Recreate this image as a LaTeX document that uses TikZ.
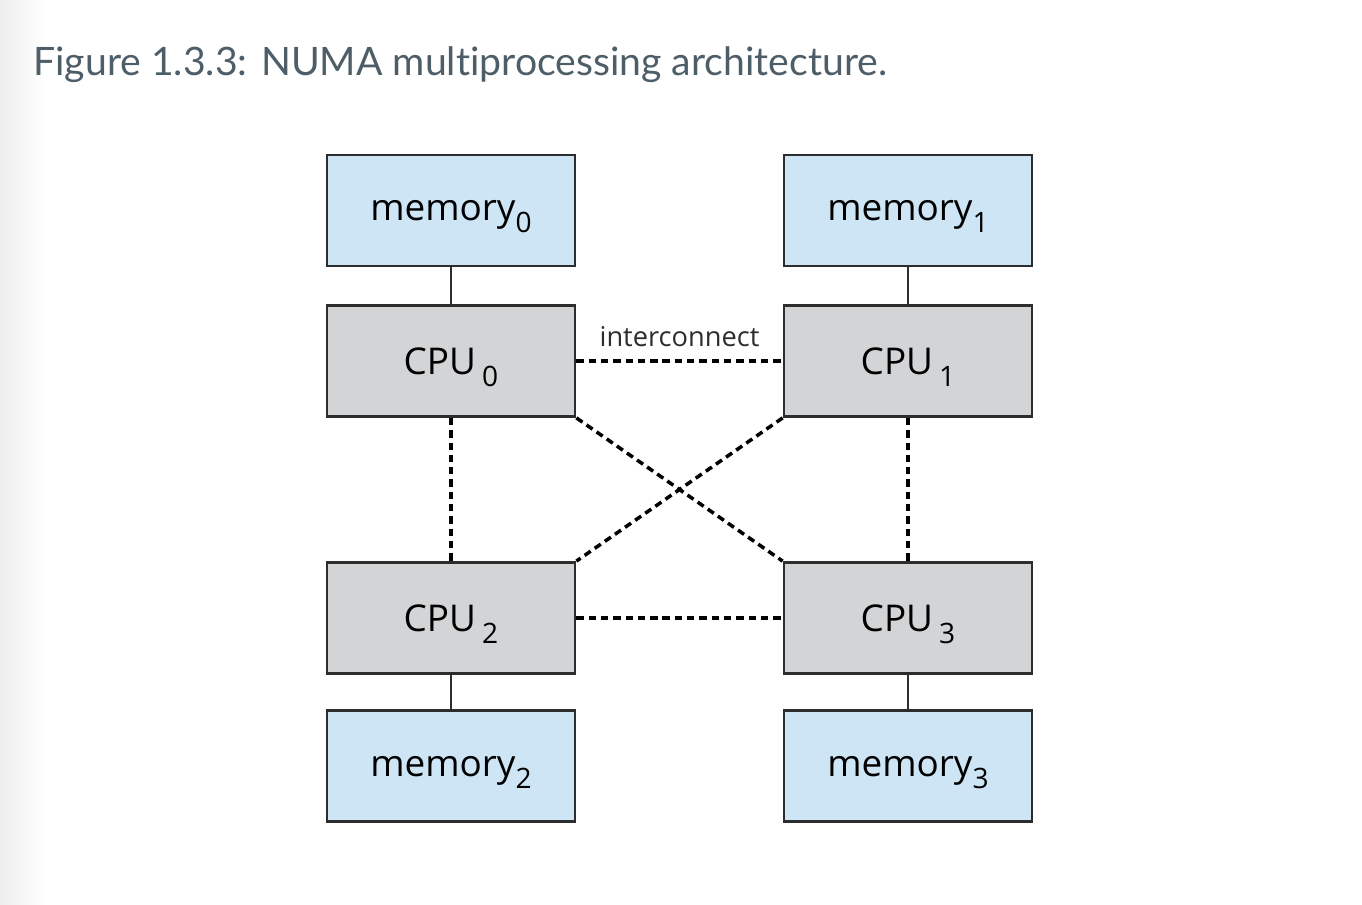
\documentclass[tikz,border=0pt]{standalone}
\usepackage{fontspec}
\usepackage{xcolor}
\setmainfont{Open Sans}
\newfontfamily\titlefont[Ligatures={NoCommon}]{Lato}
\definecolor{memblue}{RGB}{205,229,245}
\definecolor{cpugrey}{RGB}{211,212,214}
\definecolor{edgegrey}{RGB}{45,45,45}
\definecolor{titlegrey}{RGB}{78,94,104}
\newcommand{\lowidx}[1]{\raisebox{-0.33em}[0pt][0pt]{\fontsize{16}{18}\selectfont #1}}
\tikzset{
 box/.style={draw=edgegrey,line width=1.6pt,minimum width=4.96cm,minimum height=2.22cm,inner sep=0pt,text depth=0pt,font=\fontsize{21}{24}\selectfont},
 membox/.style={box,fill=memblue},
 cpubox/.style={box,fill=cpugrey},
 bus/.style={edgegrey,line width=1.1pt},
 link/.style={black,line width=2pt,dash pattern=on 4.2pt off 2.8pt}
}

\begin{document}
\begin{tikzpicture}[x=0.02cm,y=-0.02cm]
\useasboundingbox (0,0) rectangle (1362,904);
\shade[left color=black!7,right color=white] (0,0) rectangle (45,904);
\node[anchor=base west,text=titlegrey,font=\titlefont\fontsize{22.3}{26}\selectfont,inner sep=0pt] (title) at (33,75) {Figure 1.3.3: NUMA multiprocessing architecture.};
\node[membox] (mem0) at (451,210.5) {memory\lowidx{0}};
\node[membox] (mem1) at (908,210.5) {memory\lowidx{1}};
\node[cpubox] (cpu0) at (451,361) {CPU\,\lowidx{0}};
\node[cpubox] (cpu1) at (908,361) {CPU\,\lowidx{1}};
\node[cpubox] (cpu2) at (451,618) {CPU\,\lowidx{2}};
\node[cpubox] (cpu3) at (908,618) {CPU\,\lowidx{3}};
\node[membox] (mem2) at (451,766) {memory\lowidx{2}};
\node[membox] (mem3) at (908,766) {memory\lowidx{3}};
\draw[bus] (mem0) -- (cpu0);
\draw[bus] (mem1) -- (cpu1);
\draw[bus] (mem2) -- (cpu2);
\draw[bus] (mem3) -- (cpu3);
\draw[link] (cpu0) -- (cpu1) node[midway,above=4pt,text=edgegrey,font=\fontsize{15.5}{18}\selectfont] (ic) {interconnect};
\draw[link] (cpu2) -- (cpu3);
\draw[link] (cpu0) -- (cpu2);
\draw[link] (cpu1) -- (cpu3);
\draw[link] (cpu0.south east) -- (cpu3.north west);
\draw[link] (cpu1.south west) -- (cpu2.north east);
\end{tikzpicture}
\end{document}
